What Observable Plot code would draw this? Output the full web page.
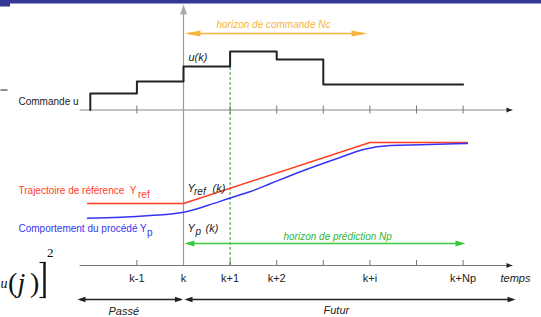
<!DOCTYPE html>
<html><head><meta charset="utf-8">
<script src="https://cdn.jsdelivr.net/npm/d3@7"></script>
<script src="https://cdn.jsdelivr.net/npm/@observablehq/plot@0.6"></script>
<style>html,body{margin:0;padding:0;background:#fff;overflow:hidden}</style>
</head><body><div id="chart"></div>
<script>
// ---- data (time in sampling steps relative to k, level in arbitrary units) ----
const tickTimes = [-1, 0, 1, 2, 3, 4, 5, 6];
const tickLabels = ["k-1", "k", "k+1", "k+2", "", "k+i", "", "k+Np"];
const uTimes = [-2, -2, -1, 0, 1, 2, 3, 6];
const uLevels = [207.5, 224, 236, 251, 266, 258, 233, 233];
const refTimes = [-2.06, 0, 4, 6.09];
const refLevels = [114, 114, 175, 175];
const ypTimes = [-2.06, -1.35, -0.71, 0, 0.515, 1, 1.44, 1.87, 2.58, 3.3, 3.86, 4.44, 5.09, 6.09];
const ypLevels = [99.3, 100.2, 102, 105.3, 112, 119.5, 126, 134, 147, 159, 168, 172, 172.7, 174];
const ncHorizon = [0, 3.95];
const npHorizon = [0, 6.05];
const axisSpan = [-2.23, 7.06];

// ---- helpers ----
const S = 46.6, X0 = 183;
const tx = px => (px - X0) / S;
const lv = py => 317 - py;
function head(dir, len, half) {
  return {draw(ctx) {
    if (dir === "right") { ctx.moveTo(0, 0); ctx.lineTo(-len, -half); ctx.lineTo(-len, half); }
    else if (dir === "left") { ctx.moveTo(0, 0); ctx.lineTo(len, -half); ctx.lineTo(len, half); }
    else { ctx.moveTo(0, 0); ctx.lineTo(-half, len); ctx.lineTo(half, len); }
    ctx.closePath();
  }};
}
const zip = (a, b) => a.map((t, i) => ({t, v: b[i]}));
const uData = zip(uTimes, uLevels);
const refData = zip(refTimes, refLevels);
const ypData = zip(ypTimes, ypLevels);
const ticks = tickTimes.map((t, i) => ({t, s: tickLabels[i]}));

const upperAxis = lv(109.5), lowerAxis = lv(265);
const ncLevel = lv(33), npLevel = lv(243), spanLevel = lv(299);

const sans = "Liberation Sans, Arial, sans-serif";
const serif = "Liberation Serif, Times New Roman, serif";
const txt = (data, o) => Plot.text(data, {x: "t", y: "v", text: "s", textAnchor: "start", fontFamily: sans, ...o});

const RED = "#ff3c1e", BLUE = "#3434f4", GREEN = "#3cc83c", ORANGE = "#f6b43e", INK = "#222";

const hline = (x1, x2, y, o) => Plot.link([0], {x1: () => x1, x2: () => x2, y1: () => y, y2: () => y, ...o});
const vline = (x, y1, y2, o) => Plot.link([0], {x1: () => x, x2: () => x, y1: () => y1, y2: () => y2, ...o});

const plot = Plot.plot({
  width: 541, height: 317, margin: 0,
  x: {domain: [tx(0), tx(541)], axis: null},
  y: {domain: [0, 317], axis: null},
  style: {background: "#fff", overflow: "visible"},
  marks: [
    // top banner
    Plot.rect([0], {x1: () => tx(0), x2: () => tx(541), y1: () => lv(3.5), y2: () => lv(0), fill: "#363696"}),
    Plot.rect([0], {x1: () => tx(0), x2: () => tx(10), y1: () => lv(6.5), y2: () => lv(0), fill: "#363696"}),
    // small cropped mark at left
    hline(tx(0), tx(7), lv(89.5), {stroke: INK, strokeWidth: 1}),
    // horizontal time axes
    hline(axisSpan[0], axisSpan[1], upperAxis, {stroke: "#888", strokeWidth: 1}),
    hline(axisSpan[0], axisSpan[1], lowerAxis, {stroke: "#777", strokeWidth: 1}),
    Plot.dot([axisSpan[1]], {x: d => d, y: () => upperAxis, symbol: head("right", 6, 2.5), r: 3, fill: INK, stroke: "none"}),
    Plot.dot([axisSpan[1]], {x: d => d, y: () => lowerAxis, symbol: head("right", 6, 2.5), r: 3, fill: INK, stroke: "none"}),
    Plot.ruleX(tickTimes, {y1: upperAxis - 4, y2: upperAxis + 4, stroke: "#777"}),
    Plot.ruleX(tickTimes, {y1: lowerAxis, y2: lowerAxis + 5, stroke: "#777"}),
    // dashed line at k+1
    Plot.ruleX([1], {y1: lowerAxis, y2: lv(51), stroke: "#2aa02a", strokeDasharray: "3,2"}),
    // vertical axis at k
    Plot.ruleX([0], {y1: lowerAxis, y2: lv(12), stroke: "#999", strokeWidth: 1.2}),
    Plot.dot([0], {x: d => d, y: () => lv(4), symbol: head("up", 10, 3.5), r: 3, fill: "#aaa", stroke: "none"}),
    // signals
    Plot.line(uData, {x: "t", y: "v", curve: "step-after", stroke: INK, strokeWidth: 2}),
    Plot.line(refData, {x: "t", y: "v", stroke: RED, strokeWidth: 1.5}),
    Plot.line(ypData, {x: "t", y: "v", curve: "monotone-x", stroke: BLUE, strokeWidth: 1.5}),
    // horizon arrows
    hline(ncHorizon[0] + 0.1, ncHorizon[1] - 0.1, ncLevel, {stroke: ORANGE, strokeWidth: 1.5}),
    Plot.dot([ncHorizon[0] + 0.02], {x: d => d, y: () => ncLevel, symbol: head("left", 16, 3), r: 3, fill: ORANGE, stroke: "none"}),
    Plot.dot([ncHorizon[1]], {x: d => d, y: () => ncLevel, symbol: head("right", 16, 3), r: 3, fill: ORANGE, stroke: "none"}),
    hline(npHorizon[0] + 0.1, npHorizon[1] - 0.1, npLevel, {stroke: GREEN, strokeWidth: 1.5}),
    Plot.dot([npHorizon[0] + 0.02], {x: d => d, y: () => npLevel, symbol: head("left", 10, 3), r: 3, fill: GREEN, stroke: "none"}),
    Plot.dot([npHorizon[1]], {x: d => d, y: () => npLevel, symbol: head("right", 10, 3), r: 3, fill: GREEN, stroke: "none"}),
    // Passé / Futur arrows
    hline(tx(80), tx(180), spanLevel, {stroke: INK, strokeWidth: 1.5}),
    hline(tx(187), tx(512), spanLevel, {stroke: INK, strokeWidth: 1.5}),
    Plot.dot([tx(77)], {x: d => d, y: () => spanLevel, symbol: head("left", 8, 2.8), r: 3, fill: INK, stroke: "none"}),
    Plot.dot([tx(182.5)], {x: d => d, y: () => spanLevel, symbol: head("right", 8, 2.8), r: 3, fill: INK, stroke: "none"}),
    Plot.dot([tx(184)], {x: d => d, y: () => spanLevel, symbol: head("left", 8, 2.8), r: 3, fill: INK, stroke: "none"}),
    Plot.dot([tx(515)], {x: d => d, y: () => spanLevel, symbol: head("right", 8, 2.8), r: 3, fill: INK, stroke: "none"}),
    // tick labels
    Plot.text(ticks, {x: "t", y: () => lv(278.2), text: "s", fontSize: 11, fontFamily: sans, fill: INK}),
    txt([{t: tx(500), v: lv(278.2), s: "temps"}], {fontSize: 11, fontStyle: "italic", fill: INK}),
    txt([{t: tx(108), v: lv(310.8), s: "Passé"}, {t: tx(323), v: lv(309.8), s: "Futur"}], {fontSize: 11, fontStyle: "italic", fill: INK}),
    // labels
    txt([{t: tx(18), v: lv(100.8), s: "Commande u"}], {fontSize: 10, fill: INK}),
    txt([{t: tx(18), v: lv(190), s: "Trajectoire de référence  Y"}], {fontSize: 10, fill: RED}),
    txt([{t: tx(137.5), v: lv(194), s: "ref"}], {fontSize: 10, fill: RED}),
    txt([{t: tx(18), v: lv(228.3), s: "Comportement du procédé Y"}], {fontSize: 10, fill: BLUE}),
    txt([{t: tx(146.5), v: lv(231.8), s: "p"}], {fontSize: 10, fill: BLUE}),
    txt([{t: tx(216), v: lv(24.1), s: "horizon de commande Nc"}], {fontSize: 10, fontStyle: "italic", fill: ORANGE}),
    txt([{t: tx(283), v: lv(235.8), s: "horizon de prédiction Np"}], {fontSize: 10, fontStyle: "italic", fill: "#33b533"}),
    txt([{t: tx(188), v: lv(56.5), s: "u(k)"}], {fontSize: 11, fontStyle: "italic", fill: INK}),
    txt([{t: tx(187), v: lv(188.2), s: "Y"}, {t: tx(212), v: lv(188.2), s: "(k)"},
         {t: tx(187), v: lv(228.2), s: "Y"}, {t: tx(205), v: lv(228.2), s: "(k)"}], {fontSize: 11, fontStyle: "italic", fill: INK}),
    txt([{t: tx(193.5), v: lv(191.3), s: "ref"}, {t: tx(195), v: lv(230.8), s: "p"}], {fontSize: 10, fontStyle: "italic", fill: INK}),
    // cropped formula fragment at left
    Plot.text([0], {x: () => tx(7), y: () => lv(283.5), text: () => "u", textAnchor: "end", fontSize: 14, fontStyle: "italic", fontFamily: serif, fill: "#111"}),
    Plot.text([0], {x: () => tx(7.5), y: () => lv(283), text: () => "(", textAnchor: "start", fontSize: 28, fontFamily: serif, fill: "#111"}),
    Plot.text([0], {x: () => tx(17), y: () => lv(283), text: () => "j", textAnchor: "start", fontSize: 28, fontStyle: "italic", fontFamily: serif, fill: "#111"}),
    Plot.text([0], {x: () => tx(29.5), y: () => lv(283), text: () => ")", textAnchor: "start", fontSize: 28, fontFamily: serif, fill: "#111"}),
    // stretched closing bracket
    vline(tx(44), lv(261.5), lv(297.5), {stroke: "#111", strokeWidth: 2.4}),
    hline(tx(39), tx(45.2), lv(262), {stroke: "#111", strokeWidth: 1.2}),
    hline(tx(39), tx(45.2), lv(297), {stroke: "#111", strokeWidth: 1.2}),
    Plot.text([0], {x: () => tx(46.5), y: () => lv(252.8), text: () => "2", textAnchor: "start", fontSize: 13, fontFamily: serif, fill: "#111"})
  ]
});
document.getElementById("chart").append(plot);
</script>
</body></html>
